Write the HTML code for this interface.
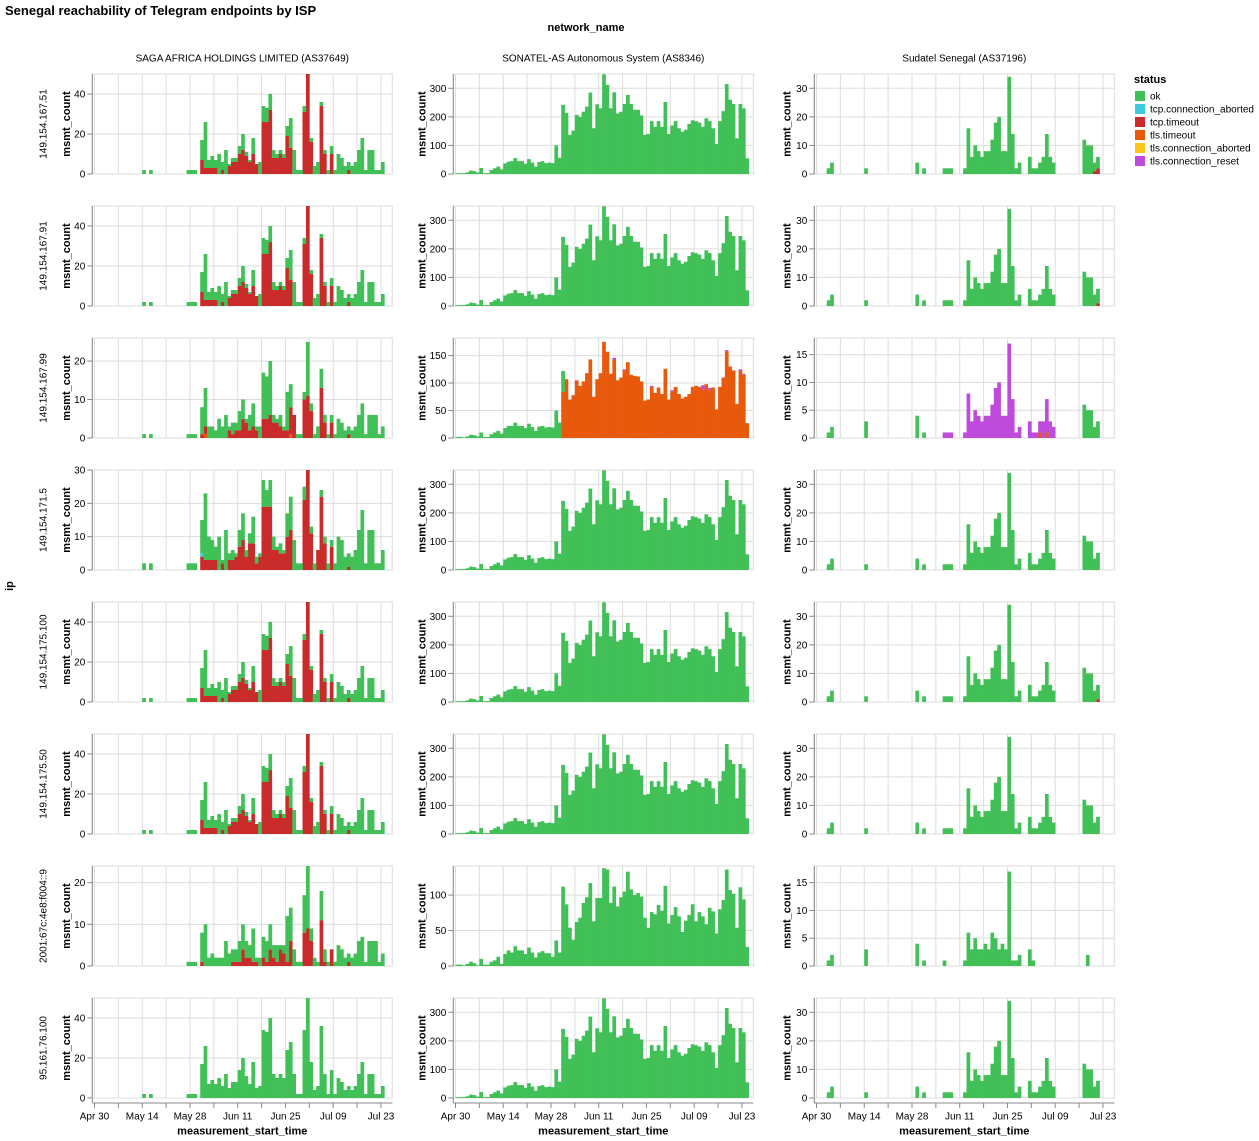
<!DOCTYPE html>
<html>
<head>
<meta charset="utf-8">
<style>
  html,body{margin:0;padding:0;background:#fff;}
  svg{display:block;}
  text{font-family:"Liberation Sans", Arial, Helvetica, sans-serif;fill:#000;}
</style>
</head>
<body>
<svg id="c" xmlns="http://www.w3.org/2000/svg" width="1259" height="1141" viewBox="0 0 1259 1141">
<rect x="0" y="0" width="1259" height="1141" fill="#fff"/>
<g id="grid"></g>
<g id="bars"></g>
<g id="axes"></g>

<!-- Titles -->
<text x="5" y="15" font-size="13" font-weight="bold">Senegal reachability of Telegram endpoints by ISP</text>
<text x="586" y="31" font-size="11" font-weight="bold" text-anchor="middle">network_name</text>
<g font-size="10" text-anchor="middle">
  <text x="242.3" y="61.5">SAGA AFRICA HOLDINGS LIMITED (AS37649)</text>
  <text x="603.3" y="61.5">SONATEL-AS Autonomous System (AS8346)</text>
  <text x="964.3" y="61.5">Sudatel Senegal (AS37196)</text>
</g>

<!-- ip axis title -->
<text transform="translate(13,586) rotate(-90)" font-size="11" font-weight="bold" text-anchor="middle">ip</text>

<!-- Row labels -->
<g font-size="10" text-anchor="middle">
  <text transform="translate(46.5,124) rotate(-90)">149.154.167.51</text>
  <text transform="translate(46.5,256) rotate(-90)">149.154.167.91</text>
  <text transform="translate(46.5,388) rotate(-90)">149.154.167.99</text>
  <text transform="translate(46.5,520) rotate(-90)">149.154.171.5</text>
  <text transform="translate(46.5,652) rotate(-90)">149.154.175.100</text>
  <text transform="translate(46.5,784) rotate(-90)">149.154.175.50</text>
  <text transform="translate(46.5,916) rotate(-90)">2001:67c:4e8:f004::9</text>
  <text transform="translate(46.5,1048) rotate(-90)">95.161.76.100</text>
</g>

<!-- msmt_count titles -->
<g font-size="11" font-weight="bold" text-anchor="middle">
  <text transform="translate(70,124) rotate(-90)">msmt_count</text>
  <text transform="translate(70,256) rotate(-90)">msmt_count</text>
  <text transform="translate(70,388) rotate(-90)">msmt_count</text>
  <text transform="translate(70,520) rotate(-90)">msmt_count</text>
  <text transform="translate(70,652) rotate(-90)">msmt_count</text>
  <text transform="translate(70,784) rotate(-90)">msmt_count</text>
  <text transform="translate(70,916) rotate(-90)">msmt_count</text>
  <text transform="translate(70,1048) rotate(-90)">msmt_count</text>

  <text transform="translate(425.5,124) rotate(-90)">msmt_count</text>
  <text transform="translate(425.5,256) rotate(-90)">msmt_count</text>
  <text transform="translate(425.5,388) rotate(-90)">msmt_count</text>
  <text transform="translate(425.5,520) rotate(-90)">msmt_count</text>
  <text transform="translate(425.5,652) rotate(-90)">msmt_count</text>
  <text transform="translate(425.5,784) rotate(-90)">msmt_count</text>
  <text transform="translate(425.5,916) rotate(-90)">msmt_count</text>
  <text transform="translate(425.5,1048) rotate(-90)">msmt_count</text>

  <text transform="translate(790.5,124) rotate(-90)">msmt_count</text>
  <text transform="translate(790.5,256) rotate(-90)">msmt_count</text>
  <text transform="translate(790.5,388) rotate(-90)">msmt_count</text>
  <text transform="translate(790.5,520) rotate(-90)">msmt_count</text>
  <text transform="translate(790.5,652) rotate(-90)">msmt_count</text>
  <text transform="translate(790.5,784) rotate(-90)">msmt_count</text>
  <text transform="translate(790.5,916) rotate(-90)">msmt_count</text>
  <text transform="translate(790.5,1048) rotate(-90)">msmt_count</text>
</g>

<!-- Y tick labels col1 -->
<g font-size="10" text-anchor="end">
  <text x="85.3" y="177.5">0</text><text x="85.3" y="137.5">20</text><text x="85.3" y="97.5">40</text>
  <text x="85.3" y="309.5">0</text><text x="85.3" y="269.5">20</text><text x="85.3" y="229.5">40</text>
  <text x="85.3" y="441.5">0</text><text x="85.3" y="403">10</text><text x="85.3" y="364.6">20</text>
  <text x="85.3" y="573.5">0</text><text x="85.3" y="540.2">10</text><text x="85.3" y="506.8">20</text><text x="85.3" y="473.5">30</text>
  <text x="85.3" y="705.5">0</text><text x="85.3" y="665.5">20</text><text x="85.3" y="625.5">40</text>
  <text x="85.3" y="837.5">0</text><text x="85.3" y="797.5">20</text><text x="85.3" y="757.5">40</text>
  <text x="85.3" y="969.5">0</text><text x="85.3" y="927.8">10</text><text x="85.3" y="886.2">20</text>
  <text x="85.3" y="1101.5">0</text><text x="85.3" y="1061.5">20</text><text x="85.3" y="1021.5">40</text>
</g>
<!-- Y tick labels col2 -->
<g font-size="10" text-anchor="end">
  <text x="446.3" y="177.5">0</text><text x="446.3" y="148.9">100</text><text x="446.3" y="120.4">200</text><text x="446.3" y="91.8">300</text>
  <text x="446.3" y="309.5">0</text><text x="446.3" y="280.9">100</text><text x="446.3" y="252.4">200</text><text x="446.3" y="223.8">300</text>
  <text x="446.3" y="441.5">0</text><text x="446.3" y="414">50</text><text x="446.3" y="386.6">100</text><text x="446.3" y="359.1">150</text>
  <text x="446.3" y="573.5">0</text><text x="446.3" y="544.9">100</text><text x="446.3" y="516.4">200</text><text x="446.3" y="487.8">300</text>
  <text x="446.3" y="705.5">0</text><text x="446.3" y="676.9">100</text><text x="446.3" y="648.4">200</text><text x="446.3" y="619.8">300</text>
  <text x="446.3" y="837.5">0</text><text x="446.3" y="808.9">100</text><text x="446.3" y="780.4">200</text><text x="446.3" y="751.8">300</text>
  <text x="446.3" y="969.5">0</text><text x="446.3" y="934">50</text><text x="446.3" y="898.6">100</text>
  <text x="446.3" y="1101.5">0</text><text x="446.3" y="1072.9">100</text><text x="446.3" y="1044.4">200</text><text x="446.3" y="1015.8">300</text>
</g>
<!-- Y tick labels col3 -->
<g font-size="10" text-anchor="end">
  <text x="807.3" y="177.5">0</text><text x="807.3" y="148.9">10</text><text x="807.3" y="120.4">20</text><text x="807.3" y="91.8">30</text>
  <text x="807.3" y="309.5">0</text><text x="807.3" y="280.9">10</text><text x="807.3" y="252.4">20</text><text x="807.3" y="223.8">30</text>
  <text x="807.3" y="441.5">0</text><text x="807.3" y="413.7">5</text><text x="807.3" y="385.9">10</text><text x="807.3" y="358.2">15</text>
  <text x="807.3" y="573.5">0</text><text x="807.3" y="544.9">10</text><text x="807.3" y="516.4">20</text><text x="807.3" y="487.8">30</text>
  <text x="807.3" y="705.5">0</text><text x="807.3" y="676.9">10</text><text x="807.3" y="648.4">20</text><text x="807.3" y="619.8">30</text>
  <text x="807.3" y="837.5">0</text><text x="807.3" y="808.9">10</text><text x="807.3" y="780.4">20</text><text x="807.3" y="751.8">30</text>
  <text x="807.3" y="969.5">0</text><text x="807.3" y="941.7">5</text><text x="807.3" y="913.9">10</text><text x="807.3" y="886.2">15</text>
  <text x="807.3" y="1101.5">0</text><text x="807.3" y="1072.9">10</text><text x="807.3" y="1044.4">20</text><text x="807.3" y="1015.8">30</text>
</g>

<!-- X tick labels -->
<g font-size="10" text-anchor="middle">
  <text x="94.5" y="1119.5">Apr 30</text><text x="142.2" y="1119.5">May 14</text><text x="190" y="1119.5">May 28</text><text x="237.7" y="1119.5">Jun 11</text><text x="285.5" y="1119.5">Jun 25</text><text x="333.2" y="1119.5">Jul 09</text><text x="381" y="1119.5">Jul 23</text>
  <text x="455.5" y="1119.5">Apr 30</text><text x="503.2" y="1119.5">May 14</text><text x="551" y="1119.5">May 28</text><text x="598.7" y="1119.5">Jun 11</text><text x="646.5" y="1119.5">Jun 25</text><text x="694.2" y="1119.5">Jul 09</text><text x="742" y="1119.5">Jul 23</text>
  <text x="816.5" y="1119.5">Apr 30</text><text x="864.2" y="1119.5">May 14</text><text x="912" y="1119.5">May 28</text><text x="959.7" y="1119.5">Jun 11</text><text x="1007.5" y="1119.5">Jun 25</text><text x="1055.2" y="1119.5">Jul 09</text><text x="1103" y="1119.5">Jul 23</text>
</g>
<g font-size="11" font-weight="bold" text-anchor="middle">
  <text x="242.3" y="1134.5">measurement_start_time</text>
  <text x="603.3" y="1134.5">measurement_start_time</text>
  <text x="964.3" y="1134.5">measurement_start_time</text>
</g>

<!-- Legend -->
<text x="1134" y="83" font-size="11" font-weight="bold">status</text>
<rect x="1135" y="91" width="10" height="10" fill="#40c057"/>
<rect x="1135" y="104" width="10" height="10" fill="#3bc9db"/>
<rect x="1135" y="117" width="10" height="10" fill="#c92a2a"/>
<rect x="1135" y="130" width="10" height="10" fill="#e8590c"/>
<rect x="1135" y="143" width="10" height="10" fill="#fcc419"/>
<rect x="1135" y="156" width="10" height="10" fill="#be4bdb"/>
<g font-size="10">
  <text x="1150" y="99.5">ok</text>
  <text x="1150" y="112.5">tcp.connection_aborted</text>
  <text x="1150" y="125.5">tcp.timeout</text>
  <text x="1150" y="138.5">tls.timeout</text>
  <text x="1150" y="151.5">tls.connection_aborted</text>
  <text x="1150" y="164.5">tls.connection_reset</text>
</g>
</svg>

<script>
(function(){
var NS="http://www.w3.org/2000/svg";
var P=3.41, O=2.2, W=300, H=100, N=86;
var L=[92.3,453.3,814.3];
var TOP=[74,206,338,470,602,734,866,998];
var OK='#40c057', CA='#3bc9db', TT='#c92a2a', TO='#e8590c', RS='#be4bdb';
function zeros(){var a=[];for(var i=0;i<N;i++)a.push(0);return a;}
function sp(s){var a=zeros(); if(s){s.split(',').forEach(function(p){var q=p.split(':');a[+q[0]]=+q[1];});} return a;}
function ar(s,start){var a=zeros(); s.split(',').forEach(function(v,i){a[(start||0)+i]=+v;}); return a;}
function sub(a){var r=a.slice(); for(var j=1;j<arguments.length;j++){var b=arguments[j]; for(var i=0;i<N;i++){r[i]=Math.max(0,r[i]-b[i]);}} return r;}

// Column 1
var T1=sp("14:2,16:2,27:2,28:2,29:2,31:17,32:26,33:7,34:9,35:7,36:10,37:6,38:12,39:5,40:8,41:8,42:14,43:20,44:11,45:7,46:18,47:5,48:6,49:34,50:33,51:40,52:12,53:10,54:12,55:10,56:24,57:28,58:12,59:2,60:2,61:34,62:50,63:18,64:4,65:6,66:36,67:12,68:2,69:14,70:2,71:10,72:8,73:4,74:6,75:4,76:6,77:12,78:18,79:2,80:12,81:12,82:2,83:2,84:6");
var R1=sp("31:7,32:3,33:3,34:3,35:3,37:2,39:4,40:6,41:6,42:10,43:12,44:9,45:6,46:10,47:5,49:26,50:26,51:32,52:8,53:8,54:10,55:8,56:19,57:13,61:31,62:50,63:16,66:34,67:10,69:10,74:2");
var T3=sp("14:1,16:1,27:1,28:1,29:1,31:8,32:13,33:3,34:3,35:2,36:5,37:3,38:6,39:3,40:4,41:4,42:7,43:10,44:5,45:6,46:9,47:3,48:3,49:17,50:16,51:20,52:6,53:5,54:6,55:3,56:12,57:14,58:6,59:1,60:1,61:12,62:25,63:9,64:1,65:3,66:18,67:6,68:1,69:6,70:1,71:5,72:4,73:2,74:3,75:2,76:3,77:6,78:9,79:1,80:6,81:6,82:6,83:1,84:3");
var R3=sp("31:1,32:2,39:2,40:1,41:2,42:2,43:5,44:4,45:2,46:3,47:2,49:5,50:5,51:6,52:4,53:4,54:3,55:2,56:2,57:7,58:6,61:10,62:11,63:7,66:13,67:4,69:4,74:1");
var O3=sp("32:1,57:1");
var T4=sp("14:2,16:2,27:2,28:2,29:2,31:15,32:23,33:10,34:9,35:7,36:10,37:3,38:12,39:5,40:6,41:5,42:12,43:17,44:6,45:11,46:16,47:4,48:5,49:27,50:24,51:27,52:10,53:7,54:8,55:6,56:17,57:22,58:9,59:2,60:2,61:25,62:30,63:13,64:2,65:6,66:24,67:10,68:2,69:9,70:2,71:10,72:9,73:4,74:5,75:4,76:6,77:12,78:18,79:2,80:12,81:12,82:2,83:2,84:6");
var R4=sp("31:4,32:3,33:3,34:3,35:3,37:2,39:3,40:3,41:4,42:7,43:9,44:4,45:8,46:8,47:2,48:4,49:19,50:19,51:19,52:6,53:6,54:5,55:5,56:10,57:12,61:21,62:30,63:11,65:6,66:22,67:8,69:7,74:1");
var C4=sp("31:1");
var T7=sp("27:1,28:1,29:1,31:8,32:10,33:2,34:3,35:2,36:2,37:2,38:6,39:3,40:4,41:4,42:6,43:10,44:6,45:5,46:9,47:2,48:2,49:7,50:6,51:10,52:5,53:5,54:5,55:5,56:12,57:14,58:4,59:1,60:1,61:17,62:24,63:9,64:2,65:1,66:18,67:4,68:1,69:4,70:1,71:5,72:4,73:2,74:3,75:2,76:3,77:6,78:7,79:1,80:6,81:6,82:6,83:1,84:3");
var R7=sp("31:1,40:1,41:1,42:1,43:4,44:2,45:2,46:1,47:1,49:2,50:1,51:4,52:2,53:1,54:4,55:3,56:1,57:6,61:8,62:9,63:6,66:11,67:1,69:4,74:1");

// Column 2
var C2=ar("3,3,3,6,12,10,5,21,3,3,14,20,26,16,37,43,45,56,45,45,36,52,40,26,42,45,38,40,38,100,57,242,214,137,152,207,200,218,236,285,160,244,230,349,312,230,286,212,218,245,277,245,225,225,205,137,140,185,165,185,165,252,140,170,185,160,148,155,175,188,185,180,165,195,185,160,105,185,220,315,260,245,125,245,230,55");
var G23=ar("2,2,1,3,6,5,3,10,2,2,7,10,13,8,18,22,22,28,22,22,18,26,20,13,21,22,19,20,19,50,28,38");
var O23=ar("84,107,70,78,105,95,103,118,143,75,107,118,175,157,117,143,105,110,123,138,115,113,112,103,68,70,93,82,92,80,126,70,85,93,80,72,75,80,93,95,93,88,98,88,92,52,93,110,158,130,123,62,123,115,27",31);
var P23=sp("46:3,49:2,57:2,63:2,72:8,74:3,79:2,83:2,84:2");
var C27=ar("2,2,1,3,6,4,1,10,2,2,6,8,13,3,17,22,19,28,22,22,17,26,19,12,19,21,18,18,13,36,19,112,87,54,37,62,68,89,97,117,63,96,96,138,136,89,112,84,97,105,133,108,100,103,98,68,54,76,73,86,78,113,60,72,83,70,48,64,72,87,63,76,70,59,82,77,46,80,93,136,107,102,54,111,94,27");

// Column 3
var C3=sp("3:2,4:4,14:2,29:4,31:2,37:2,38:2,39:2,43:2,44:16,45:6,46:10,47:8,48:6,49:8,50:8,51:12,52:18,53:20,54:8,55:8,56:34,57:14,58:2,59:4,62:6,63:2,64:2,65:4,66:6,67:14,68:6,69:4,78:12,79:10,80:10,81:4,82:6");
var R3a=sp("81:1,82:2"), R3b=sp("82:1");
var G33=sp("3:1,4:2,14:3,29:4,31:1,78:6,79:5,80:5,81:2,82:3");
var P33=sp("37:1,38:1,39:1,43:1,44:8,45:3,46:5,47:4,48:3,49:4,50:4,51:6,52:9,53:10,54:4,55:4,56:17,57:7,58:1,59:2,62:3,63:1,64:1,65:2,66:3,67:6,68:3,69:2");
var O33=sp("65:1,67:1");
var C37=sp("3:1,4:2,14:3,29:4,31:1,37:1,43:1,44:6,45:3,46:5,47:3,48:3,49:4,50:3,51:6,52:5,53:3,54:4,55:3,56:17,57:1,58:1,59:2,62:3,63:1,79:2");

var std1={D:50,t:[0,20,40],l:[[TT,R1],[OK,sub(T1,R1)]]};
var std2={D:350,t:[0,100,200,300],l:[[OK,C2]]};
var panels=[
 [0,0,std1],[0,1,std1],
 [0,2,{D:26,t:[0,10,20],l:[[TO,O3],[TT,R3],[OK,sub(T3,R3,O3)]]}],
 [0,3,{D:30,t:[0,10,20,30],l:[[TT,R4],[CA,C4],[OK,sub(T4,R4,C4)]]}],
 [0,4,std1],[0,5,std1],
 [0,6,{D:24,t:[0,10,20],l:[[TT,R7],[OK,sub(T7,R7)]]}],
 [0,7,{D:50,t:[0,20,40],l:[[OK,T1]]}],
 [1,0,std2],[1,1,std2],
 [1,2,{D:182,t:[0,50,100,150],l:[[TO,O23],[RS,P23],[OK,G23]]}],
 [1,3,std2],[1,4,std2],[1,5,std2],
 [1,6,{D:141,t:[0,50,100],l:[[OK,C27]]}],
 [1,7,std2],
 [2,0,{D:35,t:[0,10,20,30],l:[[TT,R3a],[OK,sub(C3,R3a)]]}],
 [2,1,{D:35,t:[0,10,20,30],l:[[TT,R3b],[OK,sub(C3,R3b)]]}],
 [2,2,{D:18,t:[0,5,10,15],l:[[TO,O33],[RS,P33],[OK,G33]]}],
 [2,3,{D:35,t:[0,10,20,30],l:[[OK,C3]]}],
 [2,4,{D:35,t:[0,10,20,30],l:[[TT,R3b],[OK,sub(C3,R3b)]]}],
 [2,5,{D:35,t:[0,10,20,30],l:[[OK,C3]]}],
 [2,6,{D:18,t:[0,5,10,15],l:[[OK,C37]]}],
 [2,7,{D:35,t:[0,10,20,30],l:[[OK,C3]]}]
];

var gG=document.getElementById('grid'), gB=document.getElementById('bars'), gA=document.getElementById('axes');
function mk(p,tag,a){var e=document.createElementNS(NS,tag);for(var k in a)e.setAttribute(k,a[k]);p.appendChild(e);return e;}

panels.forEach(function(pp){
  var c=pp[0], r=pp[1], p=pp[2];
  var x0=L[c], y0=TOP[r], yb=y0+H;
  var j,x;
  for(j=0;j<13;j++){x=x0+O+23.87*j; mk(gG,'line',{x1:x,x2:x,y1:y0,y2:yb,stroke:'#ddd','stroke-width':1});}
  p.t.forEach(function(v){var yy=yb-v/p.D*H; mk(gG,'line',{x1:x0,x2:x0+W,y1:yy,y2:yy,stroke:'#ddd','stroke-width':1}); mk(gA,'line',{x1:x0-5,x2:x0,y1:yy,y2:yy,stroke:'#888','stroke-width':1});});
  mk(gG,'rect',{x:x0,y:y0,width:W,height:H,fill:'none',stroke:'#ddd','stroke-width':1});
  var cum=zeros();
  p.l.forEach(function(layer){
    var col=layer[0], a=layer[1];
    for(var k=0;k<N;k++){var v=a[k]; if(v>0){var top=yb-(cum[k]+v)/p.D*H; var h=v/p.D*H; mk(gB,'rect',{x:(x0+O+P*k).toFixed(2),y:top.toFixed(2),width:(P+0.3).toFixed(2),height:h.toFixed(2),fill:col}); cum[k]+=v;}}
  });
  mk(gA,'line',{x1:x0,x2:x0,y1:y0,y2:(r==7?yb+5:yb),stroke:'#888','stroke-width':1});
  if(r==7){
    mk(gA,'line',{x1:x0,x2:x0+W,y1:yb+5,y2:yb+5,stroke:'#888','stroke-width':1});
    for(j=0;j<13;j++){x=x0+O+23.87*j; mk(gA,'line',{x1:x,x2:x,y1:yb+5,y2:yb+10,stroke:'#888','stroke-width':1});}
  }
});
})();
</script>
</body>
</html>
